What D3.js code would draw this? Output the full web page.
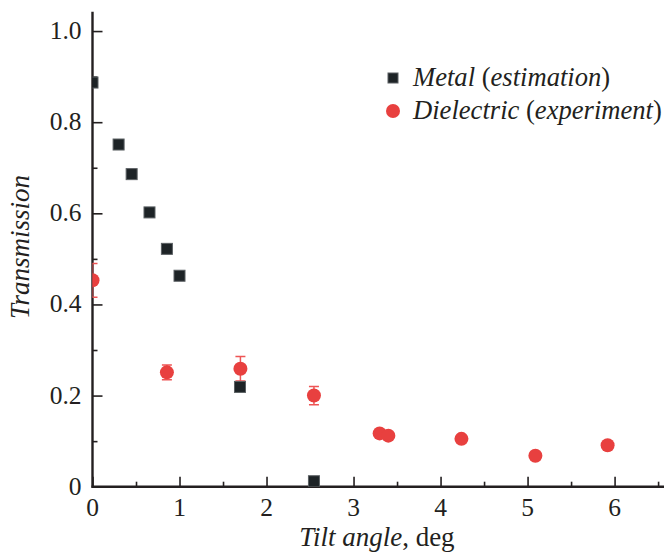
<!DOCTYPE html>
<html><head><meta charset="utf-8">
<script src="https://cdn.jsdelivr.net/npm/d3@7"></script>
<style>
html,body{margin:0;padding:0;background:#fff;}
svg text{font-family:"Liberation Serif","Times New Roman",serif;fill:#231f20;}
</style></head>
<body>
<svg id="chart" width="664" height="552"></svg>
<script>
// Data
const metalX = [0.0, 0.30, 0.45, 0.655, 0.855, 1.0, 1.695, 2.545];
const metalY = [0.887, 0.751, 0.686, 0.602, 0.522, 0.463, 0.219, 0.012];
const dielX = [0.0, 0.855, 1.70, 2.545, 3.30, 3.40, 4.24, 5.09, 5.92];
const dielY = [0.453, 0.251, 0.259, 0.200, 0.117, 0.112, 0.105, 0.068, 0.091];
const dielErr = [0.037, 0.016, 0.027, 0.020, 0, 0, 0, 0, 0];
const xTicks = [0, 1, 2, 3, 4, 5, 6];
const xMinor = [0.5, 1.5, 2.5, 3.5, 4.5, 5.5, 6.5];
const yTicks = [0, 0.2, 0.4, 0.6, 0.8, 1.0];
const yMinor = [0.1, 0.3, 0.5, 0.7, 0.9];
const yTickLabels = ["0", "0.2", "0.4", "0.6", "0.8", "1.0"];
const legendLabels = [["Metal", "estimation"], ["Dielectric", "experiment"]];

(function () {
const svg = d3.select("#chart");
const pL = 92.5, pR = 662, pT = 11.7, pB = 486.7;
const x = d3.scaleLinear().domain([0, 6.545]).range([pL, pR]);
const y = d3.scaleLinear().domain([0, 1.0425]).range([pB, pT]);

const red = "#e8403f", dark = "#1d2326", ink = "#231f20";

svg.append("defs").append("clipPath").attr("id", "clip")
  .append("rect").attr("x", pL).attr("y", 0).attr("width", 664 - pL).attr("height", pB);

// Axes
const gx = svg.append("g").attr("transform", `translate(0,${pB})`)
  .call(d3.axisTop(x).tickValues(xTicks).tickSize(10).tickFormat(""));
const gxm = svg.append("g").attr("transform", `translate(0,${pB})`)
  .call(d3.axisTop(x).tickValues(xMinor).tickSize(5).tickFormat(""));
const gy = svg.append("g").attr("transform", `translate(${pL},0)`)
  .call(d3.axisRight(y).tickValues(yTicks).tickSize(10).tickFormat(""));
const gym = svg.append("g").attr("transform", `translate(${pL},0)`)
  .call(d3.axisRight(y).tickValues(yMinor).tickSize(5).tickFormat(""));
[gx, gxm, gy, gym].forEach(g => {
  g.select(".domain").remove();
  g.selectAll("line").attr("stroke", ink).attr("stroke-width", 1.6);
});
svg.append("line").attr("x1", pL - 1).attr("x2", pR + 2).attr("y1", pB).attr("y2", pB)
  .attr("stroke", ink).attr("stroke-width", 2.4);
svg.append("line").attr("x1", pL).attr("x2", pL).attr("y1", pT).attr("y2", pB + 1)
  .attr("stroke", ink).attr("stroke-width", 2.4);

// Tick labels
svg.append("g").selectAll("text").data(xTicks).join("text")
  .attr("x", d => x(d)).attr("y", pB + 29).attr("text-anchor", "middle")
  .attr("font-size", 25.5).text(d => d);
svg.append("g").selectAll("text").data(yTicks).join("text")
  .attr("x", pL - 11).attr("y", d => y(d) + 8).attr("text-anchor", "end")
  .attr("font-size", 25.5).text((d, i) => yTickLabels[i]);

// Axis titles
const xt = svg.append("text").attr("x", 377).attr("y", 546).attr("text-anchor", "middle").attr("font-size", 27);
xt.append("tspan").attr("font-style", "italic").text("Tilt angle");
xt.append("tspan").text(", deg");
svg.append("text").attr("transform", "translate(29,247) rotate(-90)")
  .attr("text-anchor", "middle").attr("font-size", 27).attr("font-style", "italic").text("Transmission");

// Data marks
const plot = svg.append("g").attr("clip-path", "url(#clip)");
const dIdx = d3.range(dielX.length);
const eb = plot.append("g").selectAll("g").data(dIdx.filter(i => dielErr[i] > 0)).join("g")
  .attr("stroke", "#ee5555").attr("stroke-width", 1.5);
eb.append("line").attr("x1", i => x(dielX[i])).attr("x2", i => x(dielX[i]))
  .attr("y1", i => y(dielY[i] - dielErr[i])).attr("y2", i => y(dielY[i] + dielErr[i]));
eb.append("line").attr("x1", i => x(dielX[i]) - 5).attr("x2", i => x(dielX[i]) + 5)
  .attr("y1", i => y(dielY[i] - dielErr[i])).attr("y2", i => y(dielY[i] - dielErr[i]));
eb.append("line").attr("x1", i => x(dielX[i]) - 5).attr("x2", i => x(dielX[i]) + 5)
  .attr("y1", i => y(dielY[i] + dielErr[i])).attr("y2", i => y(dielY[i] + dielErr[i]));

const mIdx = d3.range(metalX.length);
plot.append("g").selectAll("rect").data(mIdx).join("rect")
  .attr("x", i => x(metalX[i]) - 5.5).attr("y", i => y(metalY[i]) - 5.5)
  .attr("width", 11).attr("height", 11)
  .attr("fill", dark).attr("stroke", "#5a5f62").attr("stroke-width", 1);
plot.append("g").selectAll("circle").data(dIdx).join("circle")
  .attr("cx", i => x(dielX[i])).attr("cy", i => y(dielY[i])).attr("r", 7)
  .attr("fill", red);

// Legend
const lg = svg.append("g");
lg.append("rect").attr("x", 388).attr("y", 73).attr("width", 10).attr("height", 10)
  .attr("fill", dark).attr("stroke", "#5a5f62").attr("stroke-width", 1);
lg.append("circle").attr("cx", 393).attr("cy", 111).attr("r", 7).attr("fill", red);
legendLabels.forEach((l, i) => {
  const t = lg.append("text").attr("x", 413).attr("y", 86 + i * 33).attr("font-size", 26.6);
  t.append("tspan").attr("font-style", "italic").text(l[0]);
  t.append("tspan").text(" (");
  t.append("tspan").attr("font-style", "italic").text(l[1]);
  t.append("tspan").text(")");
});
})();
</script>
</body></html>
